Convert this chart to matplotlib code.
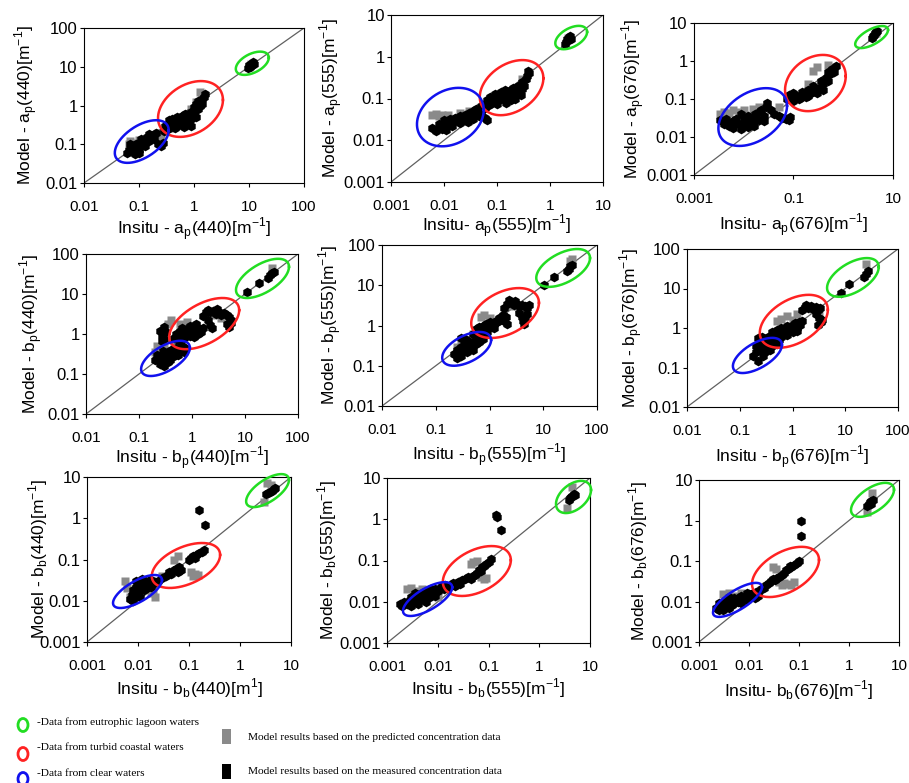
import numpy as np
import matplotlib
matplotlib.use('Agg')
import matplotlib.pyplot as plt
from matplotlib.patches import Ellipse, Rectangle
from matplotlib.ticker import NullLocator

plt.rcParams['font.family'] = 'Liberation Sans'

# ---- data (black = measured conc., gray = predicted conc.) ----
ap440_meas_x = [0.06,0.065,0.07,0.075,0.08,0.08,0.09,0.09,0.1,0.1,0.11,0.12,0.12,0.13,0.14,0.15,0.16,0.18,0.2,0.22,0.25,0.27,0.085,0.1,0.13,0.07,0.11,0.15,0.19,
                0.28,0.3,0.33,0.36,0.4,0.4,0.45,0.5,0.5,0.55,0.6,0.6,0.7,0.7,0.8,0.8,0.9,0.9,1.0,1.0,1.1,1.2,1.2,1.3,1.4,1.5,1.6,0.65,1.1,0.35,0.45,0.9,1.4,
                9.5,10,10.5,11,11.5,12,12.5]
ap440_meas_y = [0.06,0.07,0.065,0.08,0.07,0.09,0.08,0.1,0.07,0.11,0.09,0.1,0.13,0.12,0.15,0.12,0.16,0.17,0.2,0.1,0.09,0.11,0.055,0.06,0.09,0.1,0.14,0.18,0.14,
                0.22,0.3,0.25,0.35,0.3,0.45,0.38,0.3,0.5,0.4,0.35,0.55,0.4,0.6,0.5,0.35,0.7,0.45,0.9,0.6,1.1,0.8,1.3,1.0,1.5,1.7,2.0,0.28,0.5,0.42,0.26,0.3,1.1,
                9.5,11,10,12,11,13,12]
ap440_pred_x = [0.065,0.07,0.08,0.1,0.12,0.18,0.22,0.25,0.3,0.4,0.5,0.7,0.9,1.1,1.3,1.4,10,11]
ap440_pred_y = [0.1,0.12,0.11,0.13,0.11,0.17,0.2,0.16,0.22,0.27,0.35,0.5,0.8,1.2,2.2,2.0,10,12]

ap555_meas_x = [0.006,0.007,0.008,0.009,0.01,0.01,0.012,0.013,0.015,0.016,0.018,0.02,0.022,0.025,0.025,0.03,0.03,0.035,0.04,0.04,0.045,0.05,0.05,0.055,0.06,0.06,0.065,0.011,0.02,0.035,0.014,0.028,0.045,
                0.065,0.07,0.075,0.08,0.09,0.09,0.1,0.1,0.11,0.12,0.13,0.14,0.15,0.15,0.17,0.18,0.2,0.2,0.22,0.25,0.25,0.28,0.3,0.3,0.33,0.35,0.37,0.38,0.4,0.12,0.16,0.23,
                1.9,2.0,2.1,2.2,2.3,2.4,2.5]
ap555_meas_y = [0.02,0.017,0.025,0.019,0.022,0.03,0.025,0.032,0.028,0.035,0.03,0.038,0.033,0.04,0.03,0.045,0.036,0.05,0.042,0.055,0.05,0.065,0.045,0.07,0.06,0.035,0.03,0.018,0.026,0.033,0.022,0.028,0.038,
                0.09,0.07,0.11,0.08,0.1,0.13,0.075,0.12,0.09,0.14,0.1,0.16,0.08,0.12,0.15,0.09,0.12,0.18,0.1,0.14,0.2,0.12,0.17,0.25,0.2,0.3,0.35,0.45,0.4,0.11,0.1,0.16,
                2.0,2.3,2.6,2.5,2.9,3.1,2.7]
ap555_pred_x = [0.006,0.007,0.008,0.009,0.012,0.02,0.03,0.05,0.08,0.12,0.2,0.3,2.2]
ap555_pred_y = [0.04,0.042,0.038,0.04,0.04,0.045,0.05,0.055,0.1,0.12,0.15,0.3,2.8]

ap676_meas_x = [0.0033,0.004,0.0045,0.005,0.006,0.006,0.007,0.008,0.009,0.01,0.01,0.012,0.013,0.015,0.017,0.02,0.02,0.022,0.025,0.028,0.03,0.035,0.04,0.05,0.06,0.07,0.08,0.085,0.009,0.016,0.005,0.012,0.025,
                0.075,0.08,0.09,0.1,0.1,0.12,0.13,0.15,0.15,0.17,0.2,0.2,0.22,0.25,0.25,0.28,0.3,0.33,0.35,0.4,0.4,0.45,0.5,0.5,0.55,0.6,0.65,0.7,0.11,0.18,
                3.8,4.0,4.2,4.4,4.6,4.8]
ap676_meas_y = [0.028,0.022,0.03,0.02,0.026,0.017,0.03,0.022,0.016,0.028,0.02,0.035,0.024,0.03,0.04,0.028,0.045,0.05,0.035,0.06,0.08,0.05,0.04,0.035,0.032,0.03,0.028,0.033,0.04,0.02,0.024,0.018,0.026,
                0.1,0.13,0.11,0.09,0.14,0.12,0.1,0.15,0.11,0.13,0.12,0.17,0.14,0.16,0.22,0.18,0.14,0.2,0.3,0.25,0.17,0.35,0.3,0.5,0.45,0.6,0.5,0.75,0.12,0.11,
                4.0,4.5,4.8,5.3,5.8,6.2]
ap676_pred_x = [0.0033,0.004,0.005,0.006,0.008,0.01,0.015,0.02,0.03,0.05,0.08,0.1,0.2,0.25,0.3,0.5,4.5]
ap676_pred_y = [0.04,0.045,0.042,0.05,0.045,0.05,0.055,0.06,0.07,0.06,0.1,0.12,0.25,0.55,0.7,0.8,5.5]

bp440_meas_x = [0.2,0.22,0.25,0.25,0.28,0.3,0.3,0.33,0.35,0.35,0.4,0.4,0.45,0.5,0.5,0.55,0.6,0.65,0.7,0.75,0.28,0.38,
                0.25,0.27,0.3,0.3,0.32,0.27,
                0.45,0.5,0.55,0.6,0.6,0.7,0.7,0.8,0.8,0.9,1.0,1.0,1.1,1.2,1.3,1.4,1.5,1.6,0.65,0.9,1.2,
                1.6,1.8,2.0,2.2,2.5,2.8,3.0,3.3,3.6,4.0,4.5,5.0,5.5,2.0,2.2,2.4,4.5,5.0,5.5,
                11,18,27,30,33,35]
bp440_meas_y = [0.22,0.3,0.18,0.25,0.2,0.16,0.3,0.25,0.35,0.2,0.3,0.4,0.28,0.35,0.45,0.3,0.4,0.5,0.35,0.45,0.38,0.22,
                1.2,0.9,1.5,0.75,1.1,0.65,
                0.8,1.0,0.7,0.9,1.2,0.8,1.1,1.0,1.3,0.9,1.1,1.5,0.85,1.2,1.0,1.3,1.1,1.4,1.4,1.6,1.8,
                2.8,3.5,4.0,3.5,3.8,3.2,4.2,3.6,3.0,3.4,3.0,2.6,2.2,2.2,1.7,1.4,1.8,1.5,1.9,
                11,19,25,30,33,36]
bp440_pred_x = [0.2,0.22,0.3,0.35,0.4,0.45,0.6,0.8,1.0,1.2,1.5,2.5,3.5,5,32]
bp440_pred_y = [0.35,0.5,0.45,1.8,2.2,0.5,1.8,2.0,1.5,1.6,1.3,3.0,2.5,1.8,45]

bp555_meas_x = [0.22,0.25,0.25,0.28,0.3,0.3,0.33,0.35,0.38,0.4,0.4,0.45,0.5,0.5,0.55,0.6,0.65,0.7,0.75,0.8,0.35,0.3,
                0.5,0.55,0.6,0.65,0.7,0.75,0.8,0.85,0.9,1.0,1.0,1.1,1.2,1.3,1.4,1.5,1.6,1.8,2.0,0.7,0.9,1.2,
                1.9,2.1,2.3,2.5,2.8,3.0,3.3,3.6,4.0,4.5,5.0,5.5,3.5,4.0,4.2,4.6,5.0,4.4,1.9,2.1,
                10.5,16,28,30,32,35]
bp555_meas_y = [0.2,0.16,0.25,0.2,0.3,0.17,0.25,0.35,0.22,0.3,0.42,0.3,0.4,0.25,0.35,0.5,0.4,0.55,0.45,0.6,0.45,0.5,
                0.6,0.8,0.7,0.9,0.75,1.0,0.85,1.1,0.95,1.0,1.2,0.9,1.1,1.3,1.2,1.5,1.4,1.8,1.6,0.6,0.7,0.85,
                2.8,3.5,4.2,3.8,3.2,4.0,3.5,3.0,3.3,3.0,2.8,3.2,2.0,1.6,1.3,1.5,1.9,1.1,1.3,1.1,
                10,16,22,25,30,32]
bp555_pred_x = [0.25,0.3,0.5,0.7,0.8,1.0,1.2,2.5,3.5,4.5,32,35]
bp555_pred_y = [0.3,0.4,0.6,1.6,1.8,1.5,1.2,3.0,2.5,2.0,40,45]

bp676_meas_x = [0.18,0.2,0.2,0.22,0.24,0.25,0.27,0.28,0.3,0.3,0.33,0.35,0.38,0.4,0.45,0.5,0.55,0.22,0.26,
                0.35,0.4,0.45,0.5,0.5,0.55,0.6,0.65,0.7,0.75,0.8,0.9,1.0,1.0,1.1,1.2,1.3,1.4,1.5,0.6,0.8,1.2,
                1.5,1.7,1.8,2.0,2.2,2.5,2.8,3.0,3.3,2.8,3.2,3.4,3.0,3.6,
                8.3,12,23,25,27]
bp676_meas_y = [0.2,0.25,0.35,0.15,0.3,0.45,0.2,0.35,0.25,0.5,0.3,0.4,0.28,0.35,0.45,0.4,0.5,0.55,0.6,
                0.6,0.8,0.7,0.9,0.55,0.75,1.0,0.8,0.95,0.7,1.1,0.9,1.2,0.8,1.3,1.0,1.4,1.2,1.5,0.6,0.65,0.85,
                2.8,3.4,3.8,3.2,3.6,3.0,3.4,2.8,3.2,2.2,1.8,1.4,1.2,1.6,
                7.7,13,19,23,28]
bp676_pred_x = [0.22,0.25,0.5,0.6,0.8,1.0,1.2,2.5,3.2,25]
bp676_pred_y = [0.4,0.5,1.5,1.7,2.0,1.6,2.2,3.0,2.2,42]

bb440_meas_x = [0.007,0.0075,0.008,0.008,0.009,0.009,0.01,0.01,0.011,0.011,0.012,0.013,0.013,0.014,0.015,0.016,0.017,0.018,0.02,0.02,0.022,0.009,0.012,
                0.025,0.03,0.035,0.04,0.045,0.05,0.055,0.06,0.065,0.07,0.11,0.12,0.13,0.14,0.16,0.18,0.2,0.1,
                0.16,0.21,
                3.3,3.6,3.9,4.2,4.6,4.9]
bb440_meas_y = [0.011,0.014,0.01,0.018,0.013,0.022,0.016,0.025,0.012,0.02,0.028,0.018,0.024,0.03,0.02,0.026,0.032,0.022,0.03,0.025,0.028,0.03,0.034,
                0.03,0.035,0.04,0.05,0.045,0.055,0.06,0.05,0.065,0.055,0.11,0.12,0.11,0.13,0.14,0.15,0.17,0.1,
                1.55,0.7,
                3.8,4.0,4.3,4.6,5.0,5.3]
bb440_pred_x = [0.0055,0.006,0.007,0.02,0.022,0.018,0.03,0.04,0.05,0.06,0.11,0.13,0.15,0.12,3.4,4.0,3.0]
bb440_pred_y = [0.03,0.02,0.012,0.017,0.012,0.015,0.04,0.045,0.1,0.12,0.05,0.045,0.042,0.04,7.0,6.5,2.5]

bb555_meas_x = [0.0018,0.002,0.0022,0.0025,0.0028,0.003,0.003,0.0035,0.004,0.004,0.0045,0.005,0.005,0.0055,0.006,0.0065,0.007,0.007,0.008,0.009,0.01,0.011,0.012,0.013,0.014,0.0035,0.006,0.009,
                0.015,0.018,0.02,0.022,0.025,0.028,0.03,0.035,0.04,0.045,0.05,0.055,0.06,0.065,0.07,0.075,0.08,0.09,0.1,0.11,
                0.14,0.15,0.18,
                3.8,4.0,4.2,4.5,4.8,5.0]
bb555_meas_y = [0.009,0.008,0.01,0.009,0.011,0.008,0.013,0.01,0.009,0.014,0.011,0.013,0.016,0.012,0.015,0.018,0.013,0.02,0.017,0.02,0.018,0.022,0.024,0.02,0.026,0.016,0.01,0.014,
                0.022,0.025,0.028,0.024,0.03,0.027,0.033,0.036,0.04,0.035,0.042,0.045,0.05,0.06,0.055,0.07,0.075,0.08,0.09,0.11,
                1.25,1.15,0.55,
                3.0,3.3,3.5,3.6,4.0,3.8]
bb555_pred_x = [0.0025,0.003,0.0035,0.005,0.008,0.045,0.05,0.06,0.07,0.08,0.09,4.4,3.5,0.01]
bb555_pred_y = [0.02,0.022,0.018,0.02,0.02,0.08,0.09,0.1,0.04,0.035,0.038,6.0,1.9,0.013]

bb676_meas_x = [0.0022,0.0025,0.0025,0.0028,0.003,0.003,0.0033,0.0035,0.004,0.004,0.0045,0.005,0.005,0.0055,0.006,0.0065,0.007,0.007,0.008,0.009,0.01,0.011,0.012,0.013,0.014,0.015,0.016,0.004,0.009,
                0.017,0.02,0.022,0.025,0.028,0.03,0.033,0.036,0.04,0.045,0.05,0.055,0.06,0.065,0.07,0.08,0.09,0.1,
                0.11,0.11,
                2.3,2.5,2.6,2.8,3.0,2.7]
bb676_meas_y = [0.007,0.009,0.006,0.008,0.01,0.006,0.008,0.011,0.007,0.01,0.008,0.012,0.009,0.011,0.01,0.013,0.009,0.014,0.012,0.011,0.015,0.013,0.016,0.012,0.017,0.014,0.018,0.013,0.016,
                0.02,0.022,0.026,0.028,0.032,0.035,0.034,0.038,0.04,0.045,0.05,0.06,0.065,0.075,0.07,0.08,0.09,0.1,
                0.98,0.42,
                2.3,2.5,2.8,3.0,3.2,2.6]
bb676_pred_x = [0.003,0.004,0.005,0.007,0.01,0.03,0.035,0.04,0.045,0.05,0.06,0.07,0.08,2.9,2.3]
bb676_pred_y = [0.015,0.016,0.014,0.016,0.015,0.07,0.065,0.03,0.025,0.028,0.027,0.026,0.03,4.8,1.6]

dec2 = [0.01, 0.1, 1, 10, 100]
dec3 = [0.001, 0.01, 0.1, 1, 10]

# ---- layout and annotation geometry (pixel boxes, log-space ellipses) ----
GREEN, RED, BLUE = '#22dd22', '#ff2222', '#1111ee'


def lab(pre, sym, sub, wl, sup='-1'):
    return pre + sym + r'$_\mathregular{' + sub + r'}$(' + wl + r')[m$^\mathregular{' + sup + r'}$]'


panels = [
    dict(box=(84, 28, 304, 183), ticks=dec2, xt=dec2,
         xl=lab('Insitu - ', 'a', 'p', '440'), yl=lab('Model - ', 'a', 'p', '440'),
         mx=ap440_meas_x, my=ap440_meas_y, px=ap440_pred_x, py=ap440_pred_y,
         ell=[(1.06, 1.09, 0.30, 0.30, 0.5), (-0.064, -0.09, 0.59, 0.72, 0.33), (-0.95, -0.93, 0.49, 0.55, 0.56)],
         ylx=-0.20, xly=-0.21),
    dict(box=(391, 15, 603, 182), ticks=dec3, xt=dec3,
         xl=lab('Insitu- ', 'a', 'p', '555'), yl=lab('Model - ', 'a', 'p', '555'),
         mx=ap555_meas_x, my=ap555_meas_y, px=ap555_pred_x, py=ap555_pred_y,
         ell=[(0.40, 0.46, 0.30, 0.28, 0.5), (-0.725, -0.74, 0.60, 0.66, 0.35), (-1.88, -1.445, 0.63, 0.70, 0.25)],
         ylx=-0.217, xly=-0.18),
    dict(box=(694, 23, 893, 175), ticks=dec3, xt=[0.001, 0.1, 10],
         xl=lab('Insitu- ', 'a', 'p', '676'), yl=lab('Model - ', 'a', 'p', '676'),
         mx=ap676_meas_x, my=ap676_meas_y, px=ap676_pred_x, py=ap676_pred_y,
         ell=[(0.57, 0.63, 0.33, 0.29, 0.7), (-0.56, -0.58, 0.61, 0.74, 0.25), (-1.82, -1.475, 0.69, 0.76, 0.4)],
         ylx=-0.236, xly=-0.24),
    dict(box=(86, 254, 298, 414), ticks=dec2, xt=dec2,
         xl=lab('Insitu - ', 'b', 'p', '440'), yl=lab('Model - ', 'b', 'p', '440'),
         mx=bp440_meas_x, my=bp440_meas_y, px=bp440_pred_x, py=bp440_pred_y,
         ell=[(1.33, 1.39, 0.5, 0.49, 0.63), (0.23, 0.26, 0.66, 0.64, 0.55), (-0.5, -0.61, 0.46, 0.44, 0.65)],
         ylx=-0.193, xly=-0.19),
    dict(box=(382, 245, 597, 406), ticks=dec2, xt=dec2,
         xl=lab('Insitu - ', 'b', 'p', '555'), yl=lab('Model - ', 'b', 'p', '555'),
         mx=bp555_meas_x, my=bp555_meas_y, px=bp555_pred_x, py=bp555_pred_y,
         ell=[(1.37, 1.43, 0.5, 0.47, 0.55), (0.29, 0.31, 0.63, 0.62, 0.42), (-0.425, -0.58, 0.455, 0.42, 0.55)],
         ylx=-0.176, xly=-0.22),
    dict(box=(687, 249, 898, 407), ticks=dec2, xt=dec2,
         xl=lab('Insitu - ', 'b', 'p', '676'), yl=lab('Model - ', 'b', 'p', '676'),
         mx=bp676_meas_x, my=bp676_meas_y, px=bp676_pred_x, py=bp676_pred_y,
         ell=[(1.145, 1.28, 0.49, 0.49, 0.57), (0.025, 0.17, 0.645, 0.67, 0.45), (-0.665, -0.695, 0.465, 0.445, 0.65)],
         ylx=-0.199, xly=-0.23),
    dict(box=(87, 477, 291, 642), ticks=dec3, xt=dec3,
         xl=lab('Insitu - ', 'b', 'b', '440', '1'), yl=lab('Model - ', 'b', 'b', '440'),
         mx=bb440_meas_x, my=bb440_meas_y, px=bb440_pred_x, py=bb440_pred_y,
         ell=[(0.54, 0.67, 0.42, 0.40, 0.7), (-1.06, -1.145, 0.67, 0.545, 0.49), (-2.01, -1.776, 0.48, 0.40, 0.77)],
         ylx=-0.182, xly=-0.21),
    dict(box=(387, 478, 590, 643), ticks=dec3, xt=dec3,
         xl=lab('Insitu - ', 'b', 'b', '555'), yl=lab('Model - ', 'b', 'b', '555'),
         mx=bb555_meas_x, my=bb555_meas_y, px=bb555_pred_x, py=bb555_pred_y,
         ell=[(0.675, 0.54, 0.345, 0.39, 0.45), (-1.23, -1.255, 0.67, 0.605, 0.45), (-2.2, -1.935, 0.485, 0.41, 0.77)],
         ylx=-0.237, xly=-0.20),
    dict(box=(699, 480, 899, 642), ticks=dec3, xt=dec3,
         xl=lab('Insitu- ', 'b', 'b', '676'), yl=lab('Model - ', 'b', 'b', '676'),
         mx=bb676_meas_x, my=bb676_meas_y, px=bb676_pred_x, py=bb676_pred_y,
         ell=[(0.47, 0.51, 0.43, 0.42, 0.64), (-1.27, -1.27, 0.67, 0.62, 0.5), (-2.23, -1.96, 0.49, 0.42, 0.85)],
         ylx=-0.245, xly=-0.225),
]

W, H = 909, 783
fig = plt.figure(figsize=(W / 100, H / 100), dpi=100)


def fmt(v):
    return ('%g' % v)


tt = np.linspace(0, 2 * np.pi, 240)
for p in panels:
    l, t, r, b = p['box']
    ax = fig.add_axes([l / W, 1 - b / H, (r - l) / W, (b - t) / H])
    ax.set_xscale('log')
    ax.set_yscale('log')
    lo, hi = p['ticks'][0], p['ticks'][-1]
    ax.plot([lo, hi], [lo, hi], color='#606060', lw=0.9, zorder=1)
    ax.plot(p['px'], p['py'], 's', color='#8a8a8a', ms=6.3, mec='none', zorder=2)
    ax.plot(p['mx'], p['my'], 'h', color='black', ms=7, mec='none', zorder=3)
    for (cx, cy, rx, ry, ph), c in zip(p['ell'], [GREEN, RED, BLUE]):
        ax.plot(10 ** (cx + rx * np.cos(tt)), 10 ** (cy + ry * np.sin(tt + ph)),
                color=c, lw=1.8, clip_on=False, zorder=4)
    ax.set_xlim(lo, hi)
    ax.set_ylim(lo, hi)
    ax.set_xticks(p['xt'])
    ax.set_xticklabels([fmt(v) for v in p['xt']])
    ax.set_yticks(p['ticks'])
    ax.set_yticklabels([fmt(v) for v in p['ticks']])
    ax.xaxis.set_minor_locator(NullLocator())
    ax.yaxis.set_minor_locator(NullLocator())
    ax.tick_params(axis='x', direction='out', length=3, width=0.8, pad=9, labelsize=11)
    ax.tick_params(axis='y', direction='out', length=3, width=0.8, pad=1.5, labelsize=12)
    for s in ax.spines.values():
        s.set_linewidth(0.8)
    ax.set_xlabel(p['xl'], fontsize=12.5, va='top')
    ax.set_ylabel(p['yl'], fontsize=12.5)
    ax.xaxis.set_label_coords(0.5, p['xly'])
    ax.yaxis.set_label_coords(p['ylx'], 0.5)

# ---- bottom legend ----
serif = 'Liberation Serif'
circ = [(725, GREEN, 722, '-Data from eutrophic lagoon waters'),
        (754, RED, 748, '-Data from turbid coastal waters'),
        (779, BLUE, 773, '-Data from clear waters')]
for cy, c, ty, txt in circ:
    fig.patches.append(Ellipse((23 / W, 1 - cy / H), 10 / W, 13 / H, transform=fig.transFigure,
                               fill=False, ec=c, lw=2))
    fig.text(37 / W, 1 - ty / H, txt, family=serif, fontsize=8.2, va='center', ha='left')

sq = [(729, '#8a8a8a', 737, 'Model results based on the predicted concentration data'),
      (764, 'black', 771, 'Model results based on the measured concentration data')]
for y0, c, ty, txt in sq:
    fig.patches.append(Rectangle((222 / W, 1 - (y0 + 15) / H), 9 / W, 15 / H, transform=fig.transFigure,
                                 fc=c, ec='none'))
    fig.text(248 / W, 1 - ty / H, txt, family=serif, fontsize=8.2, va='center', ha='left')

fig.savefig('out.png', dpi=100)
